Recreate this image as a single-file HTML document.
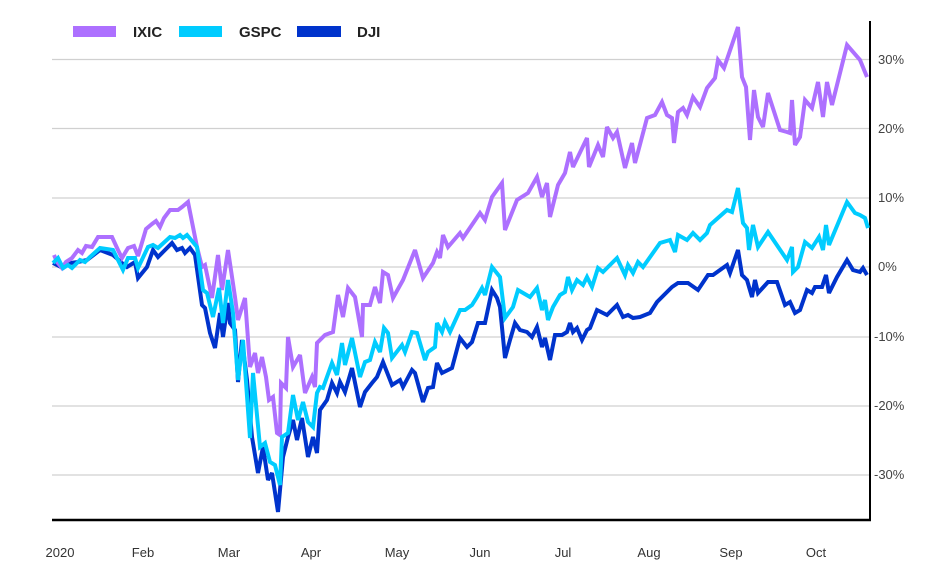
<!DOCTYPE html>
<html><head><meta charset="utf-8"><style>
html,body{margin:0;padding:0;background:#fff;}
svg{display:block;font-family:"Liberation Sans","DejaVu Sans",sans-serif;}
</style></head><body>
<svg width="939" height="581" viewBox="0 0 939 581">
<g stroke="#d0d0d0" stroke-width="1.2">
<line x1="52" y1="59.5" x2="870" y2="59.5"/>
<line x1="52" y1="128.5" x2="870" y2="128.5"/>
<line x1="52" y1="198" x2="870" y2="198"/>
<line x1="52" y1="267" x2="870" y2="267"/>
<line x1="52" y1="337" x2="870" y2="337"/>
<line x1="52" y1="406" x2="870" y2="406"/>
<line x1="52" y1="475" x2="870" y2="475"/>
</g>
<line x1="870" y1="21" x2="870" y2="521" stroke="#000" stroke-width="2"/>
<line x1="52" y1="520" x2="871" y2="520" stroke="#000" stroke-width="2.5"/>
<g font-size="13" fill="#444">
<text x="878" y="64">30%</text>
<text x="878" y="133">20%</text>
<text x="878" y="202">10%</text>
<text x="878" y="271">0%</text>
<text x="874" y="341">-10%</text>
<text x="874" y="410">-20%</text>
<text x="874" y="479">-30%</text>
</g>
<g font-size="13" fill="#333" text-anchor="middle">
<text x="60" y="557">2020</text>
<text x="143" y="557">Feb</text>
<text x="229" y="557">Mar</text>
<text x="311" y="557">Apr</text>
<text x="397" y="557">May</text>
<text x="480" y="557">Jun</text>
<text x="563" y="557">Jul</text>
<text x="649" y="557">Aug</text>
<text x="731" y="557">Sep</text>
<text x="816" y="557">Oct</text>
</g>
<g fill="none" stroke-width="4" stroke-linejoin="miter" stroke-miterlimit="3">
<polyline stroke="#0033cc" points="53,263 63,268 70,263 78,262 87,260 100,250 113,255 122,263 127,267 135,262 138,278 147,267 153,250 158,257 163,252 172,243 177,250 182,248 185,253 190,248 195,255 202,305 205,308 210,333 215,348 220,313 223,337 228,303 230,323 235,330 238,382 242,340 247,380 252,437 258,473 263,447 268,480 272,473 278,512 283,457 288,437 293,420 297,440 302,418 308,457 313,437 317,453 320,410 327,400 332,383 337,393 340,382 345,392 352,368 360,407 365,392 372,383 377,377 383,362 392,385 400,380 403,387 412,370 415,373 423,402 428,388 433,387 437,363 442,373 452,368 460,338 467,347 472,342 478,323 485,323 492,290 497,298 500,307 505,358 510,340 515,323 520,330 527,332 532,337 537,327 542,347 545,338 550,360 555,335 562,335 567,332 570,323 573,332 577,328 582,340 587,330 590,328 597,310 607,315 617,305 623,317 628,315 633,318 640,317 650,313 657,302 667,292 672,287 678,283 688,283 698,290 708,275 713,275 720,270 727,265 730,273 738,250 742,275 747,280 752,297 755,280 758,293 768,282 777,282 785,305 790,302 795,313 800,310 807,290 812,293 815,287 822,287 826,275 829,293 837,277 847,260 853,270 860,272 863,268 867,275"/>
<polyline stroke="#ad70ff" points="54,255 57,262 62,268 66,262 72,258 78,250 82,253 86,246 92,247 98,237 112,237 118,250 122,258 128,248 134,246 138,256 146,229 152,224 156,221 160,227 164,218 170,210 178,210 182,207 188,202 197,247 202,267 205,265 212,298 218,255 222,290 228,250 235,297 238,320 245,298 250,367 255,353 258,373 262,357 266,377 269,400 273,397 277,433 280,435 281,383 286,388 288,337 293,367 300,355 305,393 312,377 315,387 317,343 325,335 333,332 338,295 343,317 348,288 355,297 362,337 363,305 370,305 375,287 380,303 383,272 388,275 393,298 403,280 415,250 423,278 433,263 437,252 440,258 443,235 448,247 460,233 463,238 480,213 485,220 492,197 502,183 505,230 517,200 528,193 537,177 542,197 547,183 550,217 558,185 565,173 570,152 573,167 587,138 589,167 598,145 603,157 607,127 613,138 617,132 625,168 632,143 635,163 638,152 647,118 655,115 662,102 667,115 672,118 674,143 678,112 683,108 687,115 693,97 700,107 707,88 715,78 718,60 724,68 738,27 742,77 746,87 750,140 754,90 758,117 763,127 768,93 780,130 787,132 790,133 792,100 795,145 800,137 805,100 812,108 818,82 823,117 827,82 832,105 847,45 860,60 867,77"/>
<polyline stroke="#00ccff" points="53,263 58,258 63,268 68,265 72,268 80,260 85,262 90,257 100,248 113,250 123,270 128,258 135,258 138,268 148,247 153,245 158,248 170,237 175,238 180,235 183,238 187,235 197,247 203,290 207,293 213,317 219,288 223,323 228,280 233,313 238,380 243,340 250,438 253,373 260,447 265,443 270,462 275,465 280,485 282,437 288,433 293,395 298,420 303,402 308,422 313,427 317,393 320,387 323,388 332,363 337,375 342,343 345,365 352,338 360,377 365,362 370,360 375,342 380,352 384,328 388,333 392,358 402,345 405,352 412,332 417,333 425,360 428,352 435,347 437,323 442,332 445,322 450,332 460,310 465,310 472,305 477,297 482,288 485,295 492,267 500,277 505,318 513,307 518,290 530,297 537,288 542,310 545,300 548,320 553,307 560,295 565,292 568,277 572,290 577,280 583,285 587,277 592,287 598,268 603,272 617,258 625,275 628,265 633,273 638,262 643,267 660,243 670,240 675,252 678,235 687,240 693,233 700,240 707,233 710,225 727,210 732,212 738,188 743,223 747,228 749,250 753,225 758,247 768,232 787,260 792,247 793,272 798,267 805,242 812,248 819,237 823,250 826,225 829,245 847,202 855,213 860,215 865,218 868,228"/>
</g>
<rect x="73" y="26" width="43" height="11" fill="#ad70ff"/>
<rect x="179" y="26" width="43" height="11" fill="#00ccff"/>
<rect x="297" y="26" width="44" height="11" fill="#0033cc"/>
<g font-size="15" font-weight="bold" fill="#222">
<text x="133" y="37">IXIC</text>
<text x="239" y="37">GSPC</text>
<text x="357" y="37">DJI</text>
</g>
</svg>
</body></html>
